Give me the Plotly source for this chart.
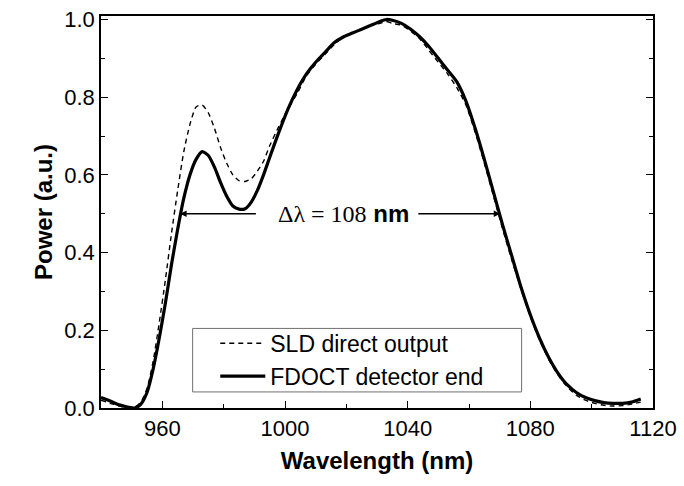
import plotly.graph_objects as go

# Data
wl_fdoct = [940, 943, 946, 949, 951, 953, 955, 957, 959, 961, 963, 965, 967, 969, 971, 973, 975, 977, 979, 981,
            983, 985, 987, 989, 991, 993, 995, 998, 1001, 1004, 1007, 1010, 1013, 1016, 1019, 1022, 1025, 1028,
            1031, 1033, 1035, 1038, 1041, 1044, 1047, 1050, 1053, 1056, 1059, 1062, 1065, 1068, 1071, 1074, 1077,
            1080, 1083, 1086, 1089, 1092, 1095, 1098, 1101, 1104, 1107, 1110, 1113, 1116]
p_fdoct = [0.027, 0.018, 0.008, 0.002, 0.0, 0.01, 0.04, 0.1, 0.18, 0.27, 0.37, 0.46, 0.54, 0.60, 0.64, 0.66, 0.65,
           0.62, 0.58, 0.545, 0.52, 0.512, 0.513, 0.53, 0.56, 0.60, 0.645, 0.71, 0.77, 0.82, 0.86, 0.89, 0.915,
           0.94, 0.955, 0.965, 0.975, 0.985, 0.995, 1.0, 0.998, 0.99, 0.975, 0.955, 0.93, 0.9, 0.87, 0.84, 0.79,
           0.72, 0.64, 0.555, 0.47, 0.39, 0.31, 0.24, 0.18, 0.13, 0.09, 0.06, 0.04, 0.027, 0.019, 0.014, 0.012,
           0.012, 0.015, 0.023]

wl_sld = wl_fdoct
p_sld = [0.02, 0.012, 0.005, 0.0, 0.002, 0.015, 0.05, 0.12, 0.22, 0.33, 0.45, 0.56, 0.66, 0.73, 0.775, 0.78, 0.76,
         0.72, 0.67, 0.63, 0.60, 0.585, 0.583, 0.59, 0.61, 0.635, 0.675, 0.725, 0.77, 0.81, 0.855, 0.885, 0.91,
         0.935, 0.955, 0.965, 0.975, 0.985, 0.99, 0.995, 0.99, 0.985, 0.97, 0.95, 0.92, 0.89, 0.86, 0.825, 0.78,
         0.71, 0.63, 0.545, 0.46, 0.38, 0.305, 0.235, 0.175, 0.125, 0.085, 0.055, 0.033, 0.02, 0.012, 0.007,
         0.005, 0.006, 0.01, 0.015]

x_ticks = [960, 1000, 1040, 1080, 1120]
y_ticks = [0.0, 0.2, 0.4, 0.6, 0.8, 1.0]
fwhm_left = 965.8
fwhm_right = 1070.2
fwhm_level = 0.5
arrow_start_left = 991
arrow_start_right = 1043
label_x = 1019

FONT = "Liberation Sans, Arial, sans-serif"

fig = go.Figure()
fig.add_trace(go.Scatter(x=wl_sld, y=p_sld, mode="lines", name="SLD direct output",
                         line=dict(color="black", width=1.4, dash="5px,4px", shape="spline", smoothing=0.6)))
fig.add_trace(go.Scatter(x=wl_fdoct, y=p_fdoct, mode="lines", name="FDOCT detector end",
                         line=dict(color="black", width=3.2, shape="spline", smoothing=0.6)))

for tip, start in [(fwhm_left, arrow_start_left), (fwhm_right, arrow_start_right)]:
    fig.add_annotation(x=tip, y=fwhm_level, ax=start, ay=fwhm_level, xref="x", yref="y",
                       axref="x", ayref="y", showarrow=True, arrowhead=2, arrowsize=1.0,
                       arrowwidth=1.3, arrowcolor="black", text="")

fig.add_annotation(x=label_x, y=fwhm_level, xref="x", yref="y",
                   showarrow=False,
                   text='<span style="font-family:Liberation Serif">Δλ = 108</span> <b>nm</b>',
                   font=dict(family=FONT, size=24, color="black"))

# legend frame
fig.add_shape(type="rect", xref="paper", yref="paper", x0=0.166, x1=0.762, y0=0.041, y1=0.203,
              line=dict(color="#707070", width=1), fillcolor="white", layer="below")

fig.update_layout(
    width=684, height=486,
    margin=dict(l=101, r=28, t=7, b=78),
    paper_bgcolor="white", plot_bgcolor="white",
    font=dict(family=FONT, size=22, color="black"),
    showlegend=True,
    legend=dict(x=0.207, y=0.220, xanchor="left", yanchor="top",
                borderwidth=0, bgcolor="rgba(0,0,0,0)",
                font=dict(family=FONT, size=23, color="black"),
                itemwidth=45, tracegroupgap=0),
)
fig.update_xaxes(range=[940, 1120], tickvals=x_ticks, ticktext=[str(v) for v in x_ticks],
                 showgrid=False, zeroline=False, showline=True, linecolor="black", linewidth=1.5,
                 mirror=True, ticks="inside", ticklen=7, tickwidth=1.2, tickcolor="black",
                 minor=dict(ticks="inside", ticklen=4, dtick=20, tick0=940, tickcolor="black", showgrid=False),
                 tickfont=dict(family=FONT, size=22),
                 title=dict(text="<b>Wavelength (nm)</b>", font=dict(family=FONT, size=24), standoff=12))
fig.update_yaxes(range=[0, 1.009], tickvals=y_ticks, ticktext=[f"{v:.1f}" for v in y_ticks],
                 showgrid=False, zeroline=False, showline=True, linecolor="black", linewidth=1.5,
                 mirror="ticks", ticks="inside", ticklen=7, tickwidth=1.2, tickcolor="black",
                 minor=dict(ticks="inside", ticklen=4, dtick=0.1, tick0=0, tickcolor="black", showgrid=False),
                 tickfont=dict(family=FONT, size=22),
                 title=dict(text="<b>Power (a.u.)</b>", font=dict(family=FONT, size=24), standoff=5))

fig.write_html("out.html")
